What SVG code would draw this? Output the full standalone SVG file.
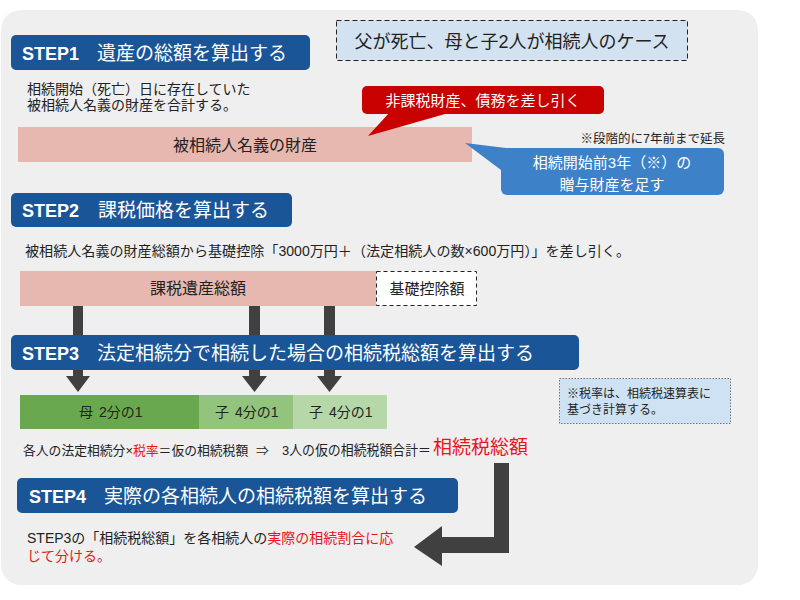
<svg xmlns="http://www.w3.org/2000/svg" width="800" height="600" viewBox="0 0 800 600">
<defs>
<style>
text{font-family:"Liberation Sans","Noto Sans CJK JP",sans-serif;fill:#222}
.step{fill:#1a5597}
.sl{font-weight:bold;font-size:18px;fill:#fff}
.sj{font-size:19px;fill:#fff}
.body{font-size:14px}
.red{fill:#e8151b}
.pink{fill:#e6b8af}
.arr{fill:#404040}
.c{text-anchor:middle}
.w{fill:#fff}
.f{font-size:12.8px}
</style>
</defs>
<rect x="1" y="10" width="757" height="575" rx="20" fill="#efefef"/>

<g id="connectors">
<path class="arr" d="M73 306h10v70h7l-12 16l-12-16h7z"/>
<path class="arr" d="M249 306h11v70h7l-12.5 16l-12.5-16h7z"/>
<path class="arr" d="M324 306h11v70h7l-12.5 16l-12.5-16h7z"/>
<path class="arr" d="M494 463h15v90h-67v13l-28-19l28-21v11h52z"/>
</g>

<g id="case">
<rect x="336.5" y="20.5" width="351" height="40" fill="#d3e2f1" stroke="#222" stroke-dasharray="5 3"/>
<text x="512" y="48" class="c" font-size="18">父が死亡、母と子2人が相続人のケース</text>
</g>

<g id="step1">
<rect class="step" x="11" y="35" width="299" height="35" rx="5"/>
<text x="22" y="60"><tspan class="sl">STEP1</tspan><tspan class="sj" x="97">遺産の総額を算出する</tspan></text>
<text x="27" y="94" class="body">相続開始（死亡）日に存在していた</text>
<text x="27" y="110" class="body">被相続人名義の財産を合計する。</text>
</g>

<g id="assets">
<rect class="pink" x="18" y="127" width="454" height="35"/>
<text x="245" y="151" class="c" font-size="16">被相続人名義の財産</text>
</g>

<g id="callout-red">
<rect x="362" y="86" width="242" height="28" rx="5" fill="#c80000"/>
<polygon points="390,112 452,112 368,136" fill="#c80000"/>
<text x="483" y="106" class="c w" font-size="15">非課税財産、債務を差し引く</text>
</g>

<g id="callout-blue">
<rect x="501" y="148" width="223" height="47" rx="6" fill="#3d82c8"/>
<polygon points="465,143 515,149 501,170" fill="#3d82c8"/>
<text x="612" y="168" class="c w" font-size="15">相続開始前3年（※）の</text>
<text x="612" y="190" class="c w" font-size="15">贈与財産を足す</text>
<text x="725" y="143" text-anchor="end" font-size="12.5">※段階的に7年前まで延長</text>
</g>

<g id="step2">
<rect class="step" x="11" y="193" width="281" height="34" rx="5"/>
<text x="22" y="217"><tspan class="sl">STEP2</tspan><tspan class="sj" x="98">課税価格を算出する</tspan></text>
<text x="25" y="256" font-size="13.8" textLength="605" lengthAdjust="spacingAndGlyphs">被相続人名義の財産総額から基礎控除「3000万円＋（法定相続人の数×600万円）」を差し引く。</text>
</g>

<g id="taxable">
<rect class="pink" x="20" y="271" width="356" height="35"/>
<text x="198" y="294" class="c" font-size="16">課税遺産総額</text>
</g>

<g id="deduction">
<rect x="376.5" y="271.5" width="100" height="34" fill="#fff" stroke="#222" stroke-dasharray="4 3"/>
<text x="427" y="294" class="c" font-size="15">基礎控除額</text>
</g>

<g id="step3">
<rect class="step" x="11" y="335" width="568" height="35" rx="5"/>
<text x="22" y="360"><tspan class="sl">STEP3</tspan><tspan class="sj" x="97">法定相続分で相続した場合の相続税総額を算出する</tspan></text>
</g>

<g id="shares">
<rect x="20" y="395" width="179" height="34" fill="#6aa84f"/>
<rect x="199" y="395" width="94" height="34" fill="#93c47d"/>
<rect x="293" y="395" width="94" height="34" fill="#b6d7a8"/>
<text x="79" y="417" font-size="14">母<tspan x="99">2分の1</tspan></text>
<text x="215" y="417" font-size="14">子<tspan x="235">4分の1</tspan></text>
<text x="309" y="417" font-size="14">子<tspan x="329">4分の1</tspan></text>
</g>

<g id="formula">
<text x="23" y="455" class="f">各人の法定相続分×</text>
<text x="133" y="455" class="f red">税率</text>
<text x="158.6" y="455" class="f">＝仮の相続税額</text>
<text x="256" y="455" class="f">⇒</text>
<text x="282" y="455" font-size="13.6" textLength="149" lengthAdjust="spacingAndGlyphs">3人の仮の相続税額合計＝</text>
<text x="433" y="454" font-size="19" class="red">相続税総額</text>
</g>

<g id="note">
<rect x="559.5" y="378.5" width="171" height="45" fill="#cfe2f3" stroke="#555" stroke-width="0.8" stroke-dasharray="1.5 1.5"/>
<text x="567" y="398" font-size="12">※税率は、相続税速算表に</text>
<text x="567" y="414" font-size="12">基づき計算する。</text>
</g>

<g id="step4">
<rect class="step" x="17" y="478" width="441" height="35" rx="5"/>
<text x="29" y="503"><tspan class="sl">STEP4</tspan><tspan class="sj" x="104">実際の各相続人の相続税額を算出する</tspan></text>
<text x="27" y="543" class="body">STEP3の「相続税総額」を各相続人の<tspan class="red">実際の相続割合に応</tspan></text>
<text x="27" y="561" class="body red">じて分ける。</text>
</g>
</svg>
